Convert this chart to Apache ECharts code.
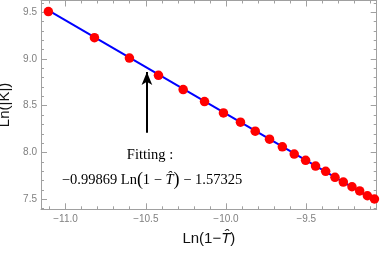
<!DOCTYPE html>
<html>
<head>
<meta charset="utf-8">
<script src="https://cdn.jsdelivr.net/npm/echarts@6/dist/echarts.min.js"></script>
<style>
html,body{margin:0;padding:0;background:#fff;}
#c{width:382px;height:255px;}
</style>
</head>
<body>
<div id="c"></div>
<script>
// Data points
var xVals = [-11.107, -10.820, -10.602, -10.421, -10.267, -10.134, -10.016, -9.910, -9.818, -9.729, -9.649, -9.575, -9.504, -9.442, -9.379, -9.321, -9.269, -9.215, -9.167, -9.119, -9.075];
var yVals = [9.507, 9.227, 9.010, 8.825, 8.673, 8.545, 8.423, 8.324, 8.228, 8.143, 8.061, 7.983, 7.916, 7.855, 7.799, 7.735, 7.684, 7.634, 7.589, 7.538, 7.503];
// Fitted line endpoints
var fitX = [-11.107, -9.075];
var fitY = [9.519, 7.490];
// Annotation arrow (data coords)
var arrowX = [-10.493];
var arrowY = [8.210, 8.860];
// Axis ranges and tick labels
var xRange = [-11.153, -9.061];
var yRange = [7.393, 9.625];
var xTickLabels = [-11.0, -10.5, -10.0, -9.5];
var yTickLabels = [7.5, 8.0, 8.5, 9.0, 9.5];

function minorTicks(range, step) {
  var out = [];
  var k0 = Math.ceil(range[0] / step - 1e-9), k1 = Math.floor(range[1] / step + 1e-9);
  for (var k = k0; k <= k1; k++) out.push(Math.round(k * step * 1000) / 1000);
  return out;
}
var xMinor = minorTicks(xRange, 0.1);
var yMinor = minorTicks(yRange, 0.1);

var frameColor = '#a0a0a0';
var labelColor = '#808080';
var sans = '"Liberation Sans", Arial, sans-serif';

function axisBase(pos, range, ticks, tickLen, labels, dim, showLine) {
  return {
    type: 'value',
    position: pos,
    min: range[0],
    max: range[1],
    splitLine: {show: false},
    axisLine: {show: showLine, onZero: false, lineStyle: {color: frameColor, width: 1}},
    axisTick: {show: true, inside: true, length: tickLen, customValues: ticks, lineStyle: {color: frameColor, width: 1}},
    axisLabel: labels ? {show: true, customValues: labels, color: labelColor, fontSize: 10, fontFamily: sans,
      margin: dim === 'x' ? 5 : 4,
      formatter: function (v) { return v.toFixed(1).replace('-', '\u2212'); }} : {show: false}
  };
}

var xAxes = [
  axisBase('bottom', xRange, xMinor, 3, null, 'x', true),
  axisBase('bottom', xRange, xTickLabels, 6, xTickLabels, 'x', false),
  axisBase('top', xRange, xMinor, 3, null, 'x', true),
  axisBase('top', xRange, xTickLabels, 6, null, 'x', false)
];
xAxes[1].name = 'Ln(1\u2212{i|T\u0302})';
xAxes[1].nameLocation = 'middle';
xAxes[1].nameGap = 22;
xAxes[1].nameTextStyle = {color: '#111', fontSize: 15, fontFamily: sans,
  rich: {i: {fontStyle: 'italic', fontSize: 15, color: '#111', fontFamily: sans}}};

var yAxes = [
  axisBase('left', yRange, yMinor, 3, null, 'y', true),
  axisBase('left', yRange, yTickLabels, 6, yTickLabels, 'y', false),
  axisBase('right', yRange, yMinor, 3, null, 'y', true),
  axisBase('right', yRange, yTickLabels, 6, null, 'y', false)
];
yAxes[1].name = 'Ln(|K|)';
yAxes[1].nameLocation = 'middle';
yAxes[1].nameGap = 25;
yAxes[1].nameTextStyle = {color: '#111', fontSize: 15, fontFamily: sans};

var pts = xVals.map(function (x, i) { return [x, yVals[i]]; });
var fitPts = fitX.map(function (x, i) { return [x, fitY[i]]; });

var chart = echarts.init(document.getElementById('c'), null, {renderer: 'canvas'});
chart.setOption({
  animation: false,
  backgroundColor: '#fff',
  grid: {left: 41, right: 5.3, top: 0.5, bottom: 45.7, containLabel: false, outerBoundsMode: 'none'},
  xAxis: xAxes,
  yAxis: yAxes,
  series: [
    {
      type: 'line', xAxisIndex: 0, yAxisIndex: 0, data: fitPts, showSymbol: false, symbol: 'none',
      lineStyle: {color: '#0000ff', width: 2}, z: 2,
      markLine: {
        silent: true, symbol: ['none', 'arrow'], symbolSize: [8, 13],
        lineStyle: {color: '#000', width: 2, type: 'solid'}, label: {show: false},
        data: [[{coord: [arrowX[0], arrowY[0]]}, {coord: [arrowX[0], arrowY[1]]}]]
      }
    },
    {
      type: 'scatter', xAxisIndex: 0, yAxisIndex: 0, data: pts, symbol: 'circle', symbolSize: 9.5,
      itemStyle: {color: '#ff0000', opacity: 1}, z: 3
    }
  ],
  graphic: [
    {type: 'text', style: {text: 'Fitting :', x: 150, y: 155, align: 'center', verticalAlign: 'middle',
      font: '14.5px "Liberation Serif", "Times New Roman", serif', fill: '#000'}},
    {type: 'text', style: {
      x: 152, y: 180, align: 'center', verticalAlign: 'middle',
      text: '\u22120.99869 Ln{p|(}1 \u2212 {i|T\u0302}{p|)} \u2212 1.57325',
      fontFamily: '"Liberation Serif", "Times New Roman", serif', fontSize: 14.5, fill: '#000',
      rich: {
        i: {fontStyle: 'italic', fontFamily: '"Liberation Serif", serif', fontSize: 14.5, fill: '#000'},
        p: {fontFamily: '"Liberation Serif", serif', fontSize: 18, fill: '#000'}
      }
    }}
  ]
});
</script>
</body>
</html>
